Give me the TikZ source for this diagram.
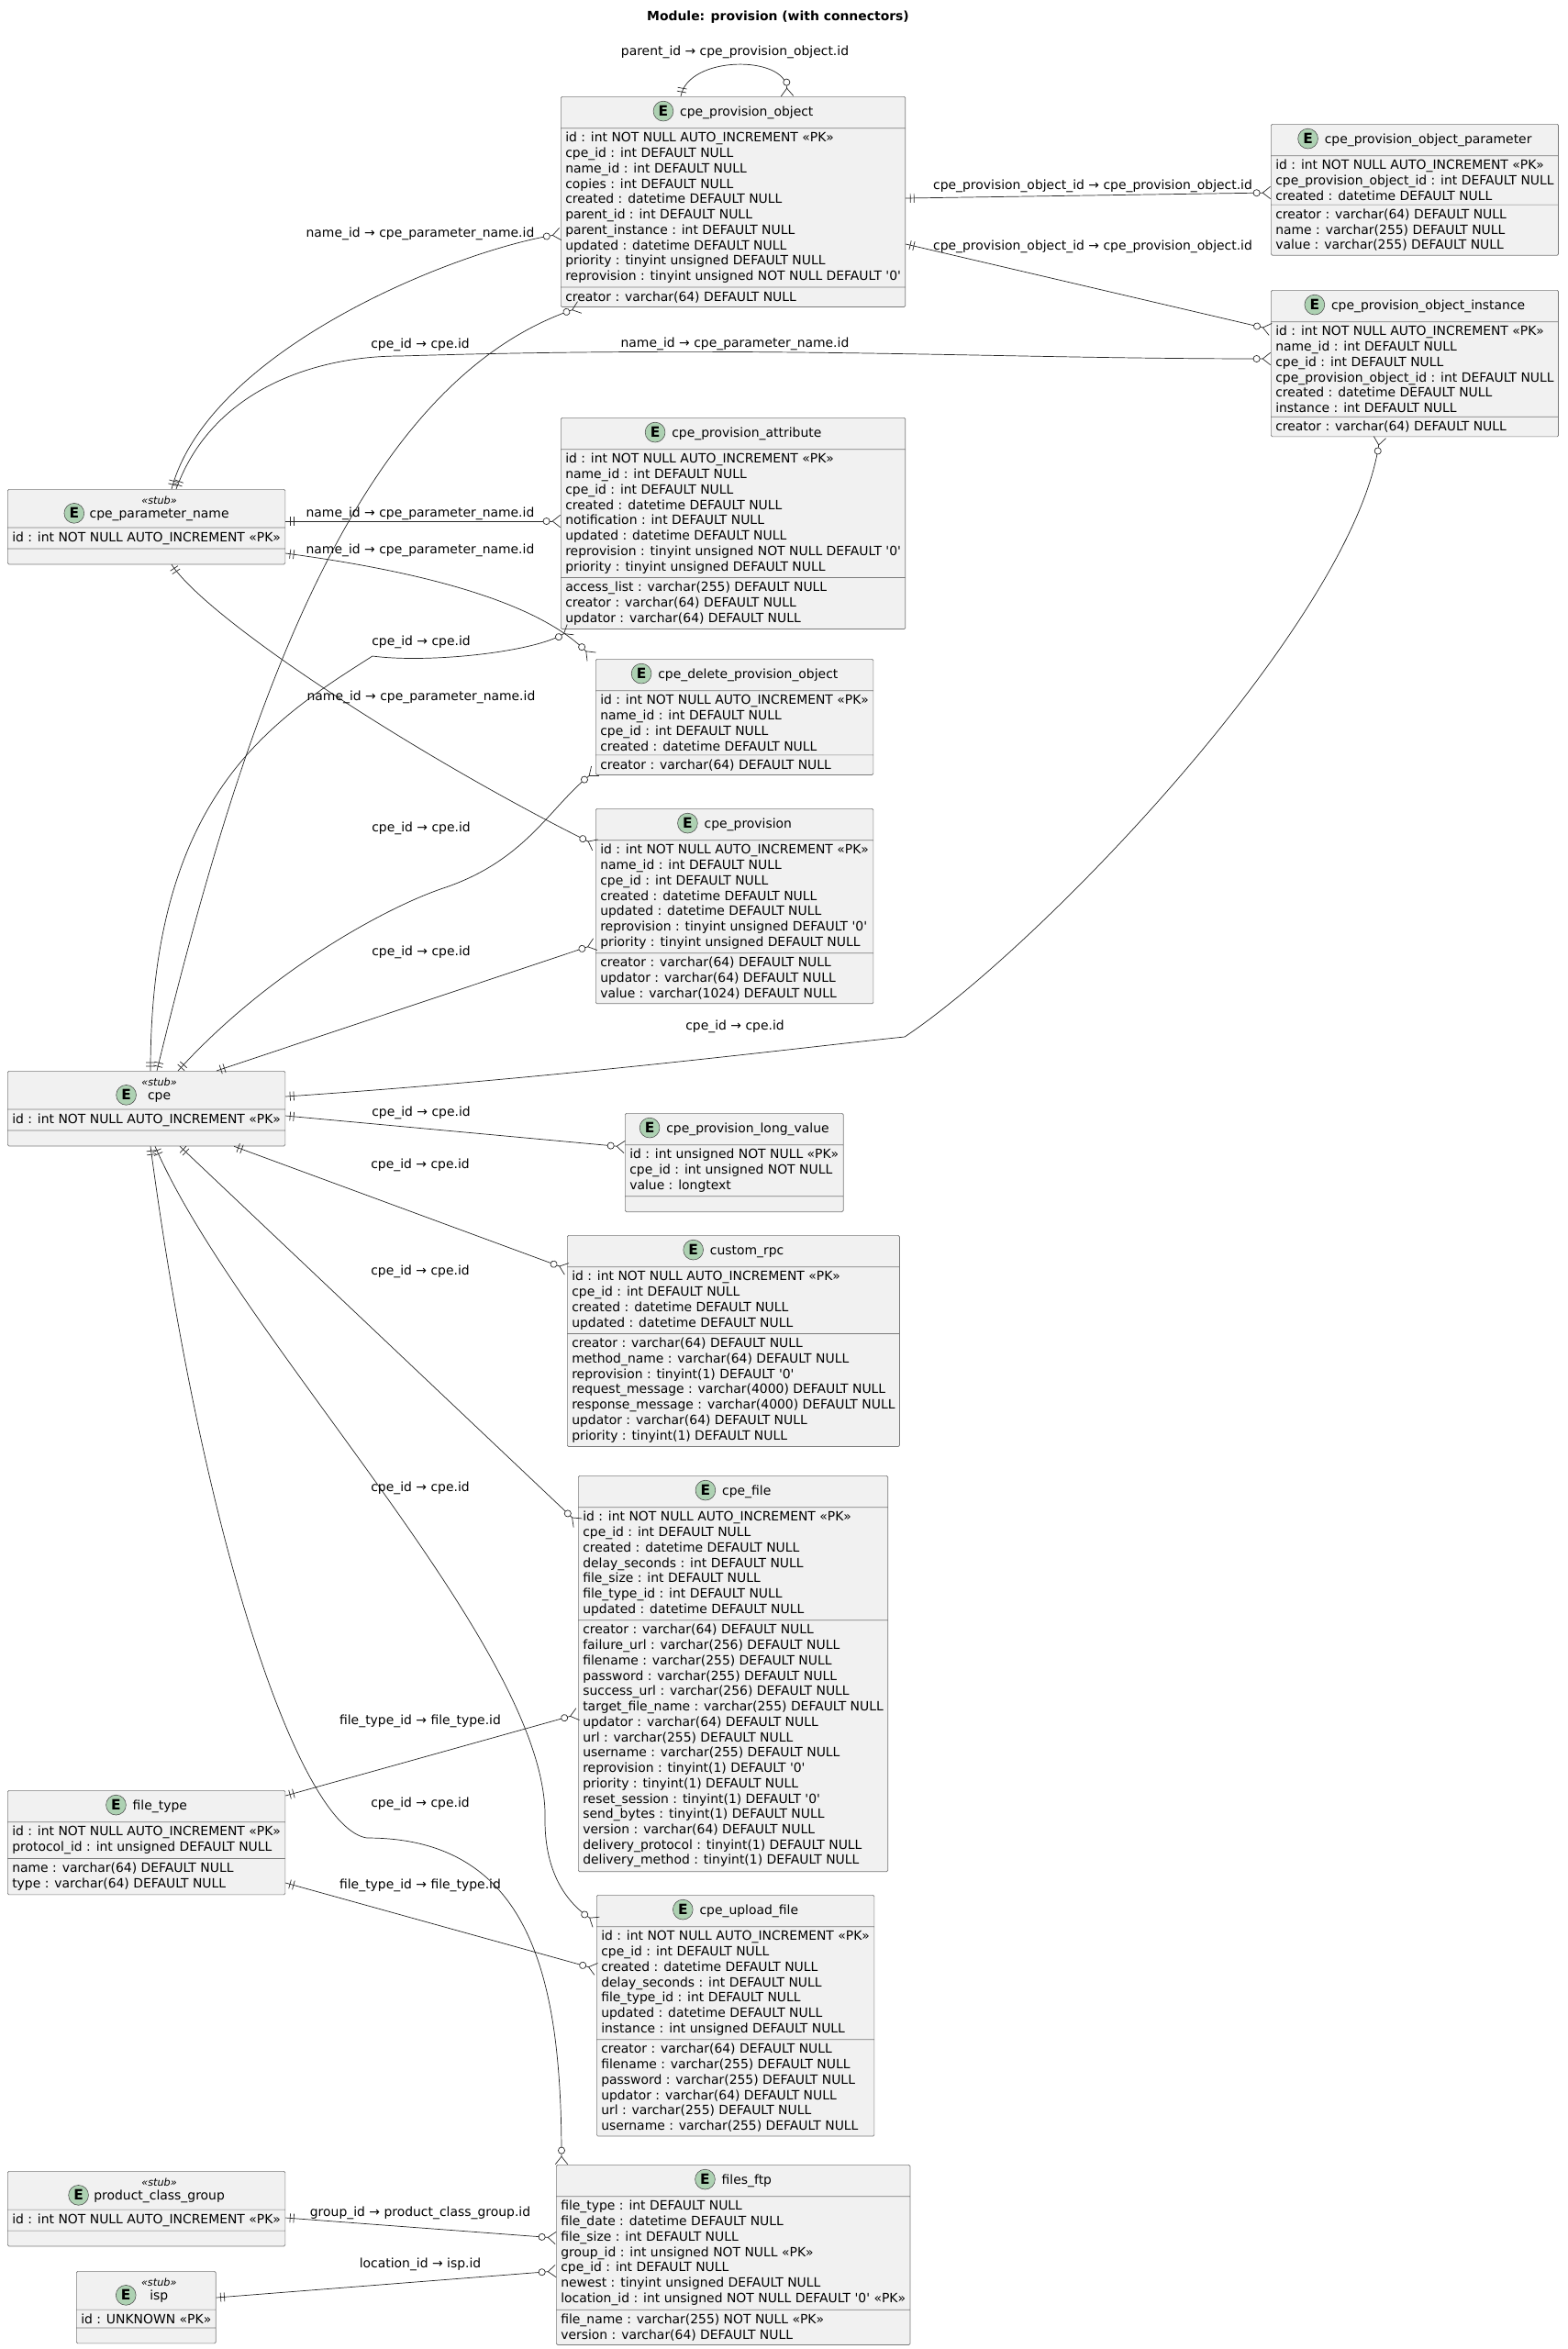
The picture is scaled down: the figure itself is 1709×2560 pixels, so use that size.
\documentclass[tikz,border=0pt]{standalone}
\usepackage{fontspec}
\setmainfont{DejaVu Sans}
\usepackage{xcolor}
\usetikzlibrary{calc}
\usetikzlibrary{arrows.meta}
\usetikzlibrary{shapes.multipart}
\usetikzlibrary{decorations.markings}
\definecolor{entfill}{HTML}{F1F1F1}
\definecolor{entline}{HTML}{7A7A7A}
\definecolor{ecolor}{HTML}{ADD1B2}
\newcommand{\sq}{\textquotesingle}
\begin{document}
\catcode`\_=12
\begin{tikzpicture}[x=0.025cm,y=-0.025cm,
    font=\fontsize{9.9}{11.9}\selectfont,
    ent/.style={rectangle split, rectangle split parts=3, draw=entline, fill=entfill,
        line width=0.5pt, rounded corners=1pt, align=left, anchor=north west,
        rectangle split part align={center,left,left}, inner xsep=3.5pt, inner ysep=3pt},
    ecirc/.style={circle, draw=black!70, fill=ecolor, minimum size=15.5pt, inner sep=0pt,
        font=\fontsize{11}{11}\selectfont\bfseries},
    lbl/.style={inner sep=1pt},
    rel/.style={draw=black!85, line width=0.5pt, postaction={decorate},
        -{Circle[open,fill=white,length=5.6pt,sep=1.5pt]Straight Barb[reversed,length=6pt,width=9.5pt]},
        decoration={markings,
        mark=at position 0 with {\draw[-] (5,-5)--(5,5) (9,-5)--(9,5);}}}]
        \newcommand{\ehead}[1]{\rule[-6pt]{0pt}{17pt}\tikz[baseline=(eh.base)]\node[ecirc] (eh) {E};\hspace{5pt}#1}
        \newcommand{\estub}[1]{\tikz[baseline=(es.base)]\node[ecirc] (es) {E};\hspace{4pt}%
            \begin{tabular}[b]{@{}c@{}}{\fontsize{8}{8}\selectfont\itshape «stub»}\\[-1pt]#1\end{tabular}}
        \useasboundingbox (0,0) rectangle (1709,2560);
        \node[font=\fontsize{9.9}{11}\selectfont\bfseries] (title) at (848,19) {Module: provision (with connectors)};
        % entities
        \node[ent] (po) at (611,105) {\ehead{cpe_provision_object}
            \nodepart{two}id : int NOT NULL AUTO_INCREMENT «PK»\\cpe_id : int DEFAULT NULL\\name_id : int DEFAULT NULL\\copies : int DEFAULT NULL\\created : datetime DEFAULT NULL\\parent_id : int DEFAULT NULL\\parent_instance : int DEFAULT NULL\\updated : datetime DEFAULT NULL\\priority : tinyint unsigned DEFAULT NULL\\reprovision : tinyint unsigned NOT NULL DEFAULT \sq0\sq
            \nodepart{three}creator : varchar(64) DEFAULT NULL};
        \node[ent] (pop) at (1385,135) {\ehead{cpe_provision_object_parameter}
            \nodepart{two}id : int NOT NULL AUTO_INCREMENT «PK»\\cpe_provision_object_id : int DEFAULT NULL\\created : datetime DEFAULT NULL
            \nodepart{three}creator : varchar(64) DEFAULT NULL\\name : varchar(255) DEFAULT NULL\\value : varchar(255) DEFAULT NULL};
        \node[ent] (poi) at (1385,316) {\ehead{cpe_provision_object_instance}
            \nodepart{two}id : int NOT NULL AUTO_INCREMENT «PK»\\name_id : int DEFAULT NULL\\cpe_id : int DEFAULT NULL\\cpe_provision_object_id : int DEFAULT NULL\\created : datetime DEFAULT NULL\\instance : int DEFAULT NULL
            \nodepart{three}creator : varchar(64) DEFAULT NULL};
        \node[ent] (pa) at (611,455) {\ehead{cpe_provision_attribute}
            \nodepart{two}id : int NOT NULL AUTO_INCREMENT «PK»\\name_id : int DEFAULT NULL\\cpe_id : int DEFAULT NULL\\created : datetime DEFAULT NULL\\notification : int DEFAULT NULL\\updated : datetime DEFAULT NULL\\reprovision : tinyint unsigned NOT NULL DEFAULT \sq0\sq\\priority : tinyint unsigned DEFAULT NULL
            \nodepart{three}access_list : varchar(255) DEFAULT NULL\\creator : varchar(64) DEFAULT NULL\\updator : varchar(64) DEFAULT NULL};
        \node[ent] (dpo) at (649,718) {\ehead{cpe_delete_provision_object}
            \nodepart{two}id : int NOT NULL AUTO_INCREMENT «PK»\\name_id : int DEFAULT NULL\\cpe_id : int DEFAULT NULL\\created : datetime DEFAULT NULL
            \nodepart{three}creator : varchar(64) DEFAULT NULL};
        \node[ent] (prov) at (649,881) {\ehead{cpe_provision}
            \nodepart{two}id : int NOT NULL AUTO_INCREMENT «PK»\\name_id : int DEFAULT NULL\\cpe_id : int DEFAULT NULL\\created : datetime DEFAULT NULL\\updated : datetime DEFAULT NULL\\reprovision : tinyint unsigned DEFAULT \sq0\sq\\priority : tinyint unsigned DEFAULT NULL
            \nodepart{three}creator : varchar(64) DEFAULT NULL\\updator : varchar(64) DEFAULT NULL\\value : varchar(1024) DEFAULT NULL};
        \node[ent] (plv) at (681,1213) {\ehead{cpe_provision_long_value}
            \nodepart{two}id : int unsigned NOT NULL «PK»\\cpe_id : int unsigned NOT NULL\\value : longtext
            \nodepart{three}};
        \node[ent] (rpc) at (618,1346) {\ehead{custom_rpc}
            \nodepart{two}id : int NOT NULL AUTO_INCREMENT «PK»\\cpe_id : int DEFAULT NULL\\created : datetime DEFAULT NULL\\updated : datetime DEFAULT NULL
            \nodepart{three}creator : varchar(64) DEFAULT NULL\\method_name : varchar(64) DEFAULT NULL\\reprovision : tinyint(1) DEFAULT \sq0\sq\\request_message : varchar(4000) DEFAULT NULL\\response_message : varchar(4000) DEFAULT NULL\\updator : varchar(64) DEFAULT NULL\\priority : tinyint(1) DEFAULT NULL};
        \node[ent] (cf) at (630,1608) {\ehead{cpe_file}
            \nodepart{two}id : int NOT NULL AUTO_INCREMENT «PK»\\cpe_id : int DEFAULT NULL\\created : datetime DEFAULT NULL\\delay_seconds : int DEFAULT NULL\\file_size : int DEFAULT NULL\\file_type_id : int DEFAULT NULL\\updated : datetime DEFAULT NULL
            \nodepart{three}creator : varchar(64) DEFAULT NULL\\failure_url : varchar(256) DEFAULT NULL\\filename : varchar(255) DEFAULT NULL\\password : varchar(255) DEFAULT NULL\\success_url : varchar(256) DEFAULT NULL\\target_file_name : varchar(255) DEFAULT NULL\\updator : varchar(64) DEFAULT NULL\\url : varchar(255) DEFAULT NULL\\username : varchar(255) DEFAULT NULL\\reprovision : tinyint(1) DEFAULT \sq0\sq\\priority : tinyint(1) DEFAULT NULL\\reset_session : tinyint(1) DEFAULT \sq0\sq\\send_bytes : tinyint(1) DEFAULT NULL\\version : varchar(64) DEFAULT NULL\\delivery_protocol : tinyint(1) DEFAULT NULL\\delivery_method : tinyint(1) DEFAULT NULL};
        \node[ent] (uf) at (650,2065) {\ehead{cpe_upload_file}
            \nodepart{two}id : int NOT NULL AUTO_INCREMENT «PK»\\cpe_id : int DEFAULT NULL\\created : datetime DEFAULT NULL\\delay_seconds : int DEFAULT NULL\\file_type_id : int DEFAULT NULL\\updated : datetime DEFAULT NULL\\instance : int unsigned DEFAULT NULL
            \nodepart{three}creator : varchar(64) DEFAULT NULL\\filename : varchar(255) DEFAULT NULL\\password : varchar(255) DEFAULT NULL\\updator : varchar(64) DEFAULT NULL\\url : varchar(255) DEFAULT NULL\\username : varchar(255) DEFAULT NULL};
        \node[ent] (ftp) at (606,2359) {\ehead{files_ftp}
            \nodepart{two}file_type : int DEFAULT NULL\\file_date : datetime DEFAULT NULL\\file_size : int DEFAULT NULL\\group_id : int unsigned NOT NULL «PK»\\cpe_id : int DEFAULT NULL\\newest : tinyint unsigned DEFAULT NULL\\location_id : int unsigned NOT NULL DEFAULT \sq0\sq{} «PK»
            \nodepart{three}file_name : varchar(255) NOT NULL «PK»\\version : varchar(64) DEFAULT NULL};
        \node[ent] (pn) at (8,533) {\estub{cpe_parameter_name}
            \nodepart{two}id : int NOT NULL AUTO_INCREMENT «PK»
            \nodepart{three}};
        \node[ent] (cpe) at (8,1167) {\estub{cpe}
            \nodepart{two}id : int NOT NULL AUTO_INCREMENT «PK»
            \nodepart{three}};
        \node[ent] (ft) at (8,1951) {\ehead{file_type}
            \nodepart{two}id : int NOT NULL AUTO_INCREMENT «PK»\\protocol_id : int unsigned DEFAULT NULL
            \nodepart{three}name : varchar(64) DEFAULT NULL\\type : varchar(64) DEFAULT NULL};
        \node[ent] (pcg) at (8,2366) {\estub{product_class_group}
            \nodepart{two}id : int NOT NULL AUTO_INCREMENT «PK»
            \nodepart{three}};
        \node[ent] (isp) at (83,2475) {\estub{isp}
            \nodepart{two}id : UNKNOWN «PK»
            \nodepart{three}};
        % bend points
        \coordinate (c5) at (436,388);
        \coordinate (c10) at (406,715);
        \coordinate (c11) at (483,968);
        \coordinate (c13) at (986,1130);
        \coordinate (c17) at (594,1984);
        \coordinate (c18) at (400,2003);
        % relations
        \draw[rel] ($(po.north west)+(131,0)$) .. controls +(8,-45) and +(-2,-45) .. ($(po.north west)+(247,0)$);
        \draw[rel] ($(po.north east)+(0,111)$) -- ($(pop.north west)+(0,75)$);
        \draw[rel] ($(po.north east)+(0,161)$) -- ($(poi.north west)+(0,43)$);
        \draw[rel] ($(pn.north west)+(179,0)$) .. controls +(40,-150) and +(-120,20) .. ($(po.north west)+(0,150)$);
        \draw[rel] ($(pn.north west)+(184,0)$) .. controls +(40,-110) and +(-90,0) .. (c5)
            .. controls +(400,-12) and +(-300,0) .. ($(poi.north west)+(0,75)$);
        \draw[rel] ($(cpe.north west)+(163,0)$) .. controls +(89,-367) and +(-252,87) .. ($(po.south west)+(21,0)$);
        \draw[rel] ($(pn.north east)+(0,35)$) -- ($(pa.north west)+(0,113)$);
        \draw[rel] ($(pn.north east)+(0,70)$) .. controls +(150,20) and +(-60,-60) .. ($(dpo.north west)+(-4,-2)$);
        \draw[rel] ($(pn.south west)+(179,0)$) .. controls +(40,60) and +(-200,-100) .. ($(prov.north west)+(0,40)$);
        \draw[rel] ($(cpe.north west)+(156,0)$) .. controls +(0,-300) and +(-110,70) .. (c10)
            .. controls +(60,8) and +(-40,25) .. ($(pa.south west)+(11,0)$);
        \draw[rel] ($(cpe.north west)+(186,0)$) .. controls +(100,-110) and +(-60,20) .. (c11)
            .. controls +(90,-30) and +(-50,40) .. ($(dpo.north west)+(0,122)$);
        \draw[rel] ($(cpe.north west)+(228,0)$) -- ($(prov.north west)+(0,148)$);
        \draw[rel] ($(cpe.north east)+(0,28)$) .. controls +(300,-20) and +(-100,10) .. (c13)
            .. controls +(150,-100) and +(-30,200) .. ($(poi.south west)+(119,0)$);
        \draw[rel] ($(cpe.north east)+(0,49)$) -- ($(plv.north west)+(0,37)$);
        \draw[rel] ($(cpe.south west)+(247,0)$) -- ($(rpc.north west)+(0,37)$);
        \draw[rel] ($(cpe.south west)+(188,0)$) -- ($(cf.north west)+(0,52)$);
        \draw[rel] ($(cpe.south west)+(161,0)$) .. controls +(91,211) and +(6,-184) .. (c17)
            .. controls +(0,60) and +(-30,-20) .. ($(uf.north west)+(0,30)$);
        \draw[rel] ($(cpe.south west)+(156,0)$) .. controls +(60,450) and +(-70,-10) .. (c18)
            .. controls +(180,0) and +(0,-200) .. ($(ftp.north west)+(6,0)$);
        \draw[rel] ($(ft.north east)+(0,6)$) -- ($(cf.north west)+(0,260)$);
        \draw[rel] ($(ft.north east)+(0,101)$) -- ($(uf.north west)+(0,81)$);
        \draw[rel] ($(pcg.north east)+(0,51)$) -- ($(ftp.north west)+(0,80)$);
        \draw[rel] ($(isp.north east)+(0,29)$) -- ($(ftp.north west)+(0,116)$);
        % labels
        \node[lbl] (l1) at (801,57) {parent_id → cpe_provision_object.id};
        \node[lbl] (l2) at (1191,203) {cpe_provision_object_id → cpe_provision_object.id};
        \node[lbl] (l3) at (1191,269) {cpe_provision_object_id → cpe_provision_object.id};
        \node[lbl] (l4) at (458,255) {name_id → cpe_parameter_name.id};
        \node[lbl] (l5) at (801,375) {name_id → cpe_parameter_name.id};
        \node[lbl] (l6) at (458,376) {cpe_id → cpe.id};
        \node[lbl] (l7) at (458,560) {name_id → cpe_parameter_name.id};
        \node[lbl] (l8) at (458,600) {name_id → cpe_parameter_name.id};
        \node[lbl] (l9) at (459,760) {name_id → cpe_parameter_name.id};
        \node[lbl] (l10) at (459,700) {cpe_id → cpe.id};
        \node[lbl] (l11) at (459,903) {cpe_id → cpe.id};
        \node[lbl] (l12) at (459,1038) {cpe_id → cpe.id};
        \node[lbl] (l13) at (801,1119) {cpe_id → cpe.id};
        \node[lbl] (l14) at (459,1213) {cpe_id → cpe.id};
        \node[lbl] (l15) at (458,1270) {cpe_id → cpe.id};
        \node[lbl] (l16) at (458,1386) {cpe_id → cpe.id};
        \node[lbl] (l17) at (458,1622) {cpe_id → cpe.id};
        \node[lbl] (l18) at (458,1966) {cpe_id → cpe.id};
        \node[lbl] (l19) at (458,1876) {file_type_id → file_type.id};
        \node[lbl] (l20) at (458,2055) {file_type_id → file_type.id};
        \node[lbl] (l21) at (458,2412) {group_id → product_class_group.id};
        \node[lbl] (l22) at (458,2468) {location_id → isp.id};
    \end{tikzpicture}
\end{document}
